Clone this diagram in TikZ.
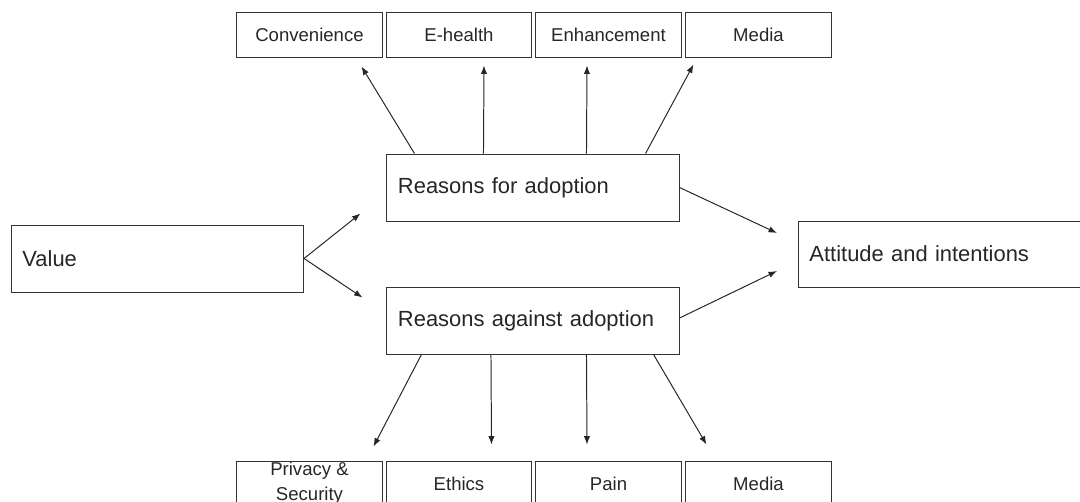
\documentclass[tikz,border=0pt]{standalone}
\usepackage{fontspec}
\setmainfont{Liberation Sans}
\usetikzlibrary{arrows.meta}

\begin{document}
\begin{tikzpicture}[x=0.025cm, y=-0.025cm,
  big/.style={draw=black!80, line width=0.7pt, text=black!85, inner xsep=0.275cm,
    text width=6.75cm, align=left, minimum height=1.675cm, font=\fontsize{15.6}{18.7}\selectfont},
  small/.style={draw=black!80, line width=0.7pt, text=black!85, inner sep=0pt,
    minimum width=3.625cm, minimum height=1.125cm, align=center, font=\fontsize{13.2}{17.8}\selectfont},
  arr/.style={draw=black!85, line width=0.7pt, -{Latex[length=6pt,width=4.5pt]}}]
  \clip (0,0) rectangle (1080,501);
  % boxes
  \node[big] (value) at (157.5,258.5) {Value};
  \node[big] (for) at (533,187.5) {Reasons for adoption};
  \node[big] (against) at (533,320.5) {Reasons against adoption};
  \node[big, minimum height=1.65cm] (att) at (944.5,254) {Attitude and intentions};
  \node[small] (conv) at (309.5,34.5) {Convenience};
  \node[small] (ehealth) at (459,34.5) {E-health};
  \node[small] (enh) at (608.5,34.5) {Enhancement};
  \node[small] (media) at (758.5,34.5) {Media};
  \node[small] (privacy) at (309.5,483.5) {Privacy \&\\Security};
  \node[small] (ethics) at (459,483.5) {Ethics};
  \node[small] (pain) at (608.5,483.5) {Pain};
  \node[small] (media2) at (758.5,483.5) {Media};
  % value to reasons, reasons to attitude
  \draw[arr] (value.east) -- ([shift={(-26,-8)}]for.south west);
  \draw[arr] (value.east) -- ([shift={(-24,11)}]against.north west);
  \draw[arr] (for.east) -- ([shift={(-21,-21)}]att.west);
  \draw[arr] ([shift={(0,-2.5)}]against.east) -- ([shift={(-21,17)}]att.west);
  % reasons for
  \draw[arr] ([shift={(28,0)}]for.north west) -- ([shift={(-21,9)}]conv.south east);
  \draw[arr] ([shift={(97,0)}]for.north west) -- ([shift={(25,8)}]ehealth.south);
  \draw[arr] ([shift={(200,0)}]for.north west) -- ([shift={(-21.5,8)}]enh.south);
  \draw[arr] ([shift={(-34,0)}]for.north east) -- ([shift={(8,7)}]media.south west);
  % reasons against
  \draw[arr] ([shift={(35,0)}]against.south west) -- ([shift={(-9,-14)}]privacy.north east);
  \draw[arr] ([shift={(104.5,0)}]against.south west) -- ([shift={(32.5,-16)}]ethics.north);
  \draw[arr] ([shift={(200,0)}]against.south west) -- ([shift={(-21.5,-16)}]pain.north);
  \draw[arr] ([shift={(-26,0)}]against.south east) -- ([shift={(21,-16)}]media2.north west);
\end{tikzpicture}
\end{document}
